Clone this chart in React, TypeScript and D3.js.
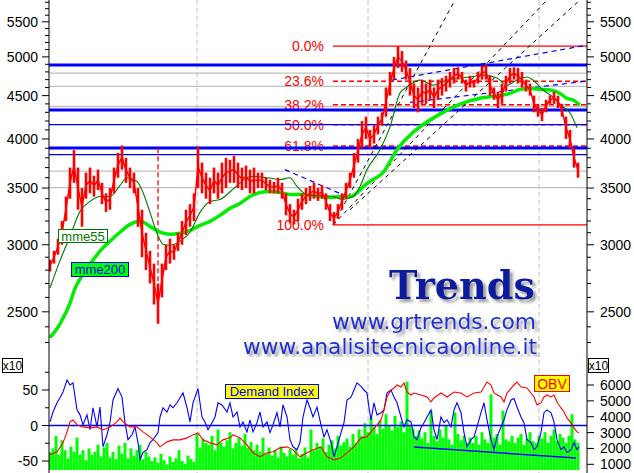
import React from 'react';
import * as d3 from 'd3';

// ---------- DATA ----------
// price bars sampled every 4 trading days: [high, low]
const priceBars: [number, number][] = [
  [2880,2790],[2950,2850],[3050,2920],[3200,3000],[3420,3200],[3700,3400],[3880,3550],[3700,3300],
  [3500,3150],[3650,3400],[3700,3450],[3620,3420],[3680,3480],[3550,3350],[3450,3280],[3500,3300],
  [3700,3450],[3850,3600],[3930,3680],[3800,3550],[3700,3500],[3650,3450],[3500,3150],[3300,2900],
  [3100,2800],[2950,2700],[2850,2550],[2700,2420],[2850,2600],[3000,2800],[3050,2850],[3000,2880],
  [3100,2950],[3200,3000],[3300,3080],[3350,3150],[3450,3200],[3920,3500],[3750,3450],[3650,3400],
  [3600,3350],[3700,3450],[3650,3400],[3750,3450],[3800,3500],[3780,3550],[3820,3550],[3750,3500],
  [3700,3480],[3720,3500],[3680,3450],[3700,3450],[3650,3500],[3650,3500],[3600,3480],[3580,3450],
  [3560,3450],[3600,3450],[3550,3400],[3450,3250],[3350,3180],[3300,3170],[3400,3200],[3450,3300],
  [3500,3350],[3520,3380],[3550,3400],[3500,3380],[3530,3400],[3450,3300],[3350,3200],[3280,3166],
  [3350,3220],[3450,3300],[3550,3400],[3650,3500],[3850,3600],[4000,3750],[4200,3900],[4250,4000],
  [4100,3900],[4150,3950],[4250,4050],[4300,4150],[4600,4250],[4800,4500],[5000,4700],[5147,4850],
  [5080,4800],[4950,4700],[4850,4500],[4650,4350],[4600,4300],[4700,4400],[4650,4400],[4700,4450],
  [4600,4350],[4700,4450],[4720,4500],[4750,4550],[4800,4600],[4850,4650],[4860,4700],[4800,4650],
  [4700,4550],[4750,4600],[4700,4600],[4800,4650],[4880,4700],[4900,4700],[4750,4500],[4600,4450],
  [4550,4350],[4650,4400],[4750,4550],[4850,4650],[4860,4700],[4850,4650],[4800,4600],[4700,4550],
  [4650,4500],[4500,4300],[4400,4250],[4350,4200],[4450,4300],[4500,4400],[4550,4400],[4500,4350],
  [4400,4250],[4250,4000],[4100,3900],[3900,3700],[3750,3600]
];
const barStep = 4;

// moving averages: [day, value]
const mme55: [number, number][] = [
  [0,2667],[10,2873],[20,3070],[30,3285],[40,3375],[50,3420],[60,3420],[70,3525],[77,3600],[87,3563],
  [93,3458],[100,3276],[107,3095],[113,3004],[120,2996],[130,3029],[140,3104],[150,3276],[160,3375],
  [170,3393],[185,3505],[200,3611],[217,3600],[230,3582],[240,3600],[247,3515],[257,3439],[270,3430],
  [283,3420],[293,3393],[303,3420],[310,3515],[317,3680],[330,3884],[340,4133],[350,4532],[357,4607],
  [370,4694],[383,4631],[397,4694],[410,4720],[420,4733],[433,4758],[447,4720],[457,4631],[467,4694],
  [477,4733],[483,4694],[493,4569],[503,4483],[513,4363],[520,4293],[527,4122]
];
const mme200: [number, number][] = [
  [0,2330],[10,2420],[20,2560],[25,2665],[30,2733],[40,2846],[50,2948],[60,3029],[70,3104],[80,3171],
  [90,3197],[100,3154],[110,3104],[120,3087],[130,3095],[140,3120],[150,3163],[160,3197],[170,3250],
  [180,3312],[190,3357],[200,3420],[210,3458],[220,3467],[230,3458],[240,3439],[250,3439],[260,3430],
  [270,3420],[280,3411],[290,3420],[300,3420],[317,3544],[323,3582],[333,3650],[347,3884],[363,4072],
  [370,4133],[390,4279],[410,4396],[430,4467],[450,4503],[460,4527],[470,4577],[480,4589],[490,4577],
  [500,4569],[510,4527],[517,4467],[523,4447],[530,4387]
];

// horizontal levels
const blueThickLevels = [4891, 4327, 3903];
const blueThinLevels = [4159, 3834];
const greyLevels = [4783, 4614, 4369, 3664, 3505];

// fibonacci retracement
const fibHigh = 5147;
const fibLow = 3166;
const fibStartDay = 283;
const fibRatios = [0, 0.236, 0.382, 0.5, 0.618, 1];
const fibLabels = ['0.0%', '23.6%', '38.2%', '50.0%', '61.8%', '100.0%'];

// trend lines [day, value, day, value]
const blueDashedLines: [number, number, number, number][] = [
  [342, 4694, 536, 5160],
  [360, 4417, 536, 4680],
  [235, 3680, 297, 3420],
];
const blackDashedLines: [number, number, number, number][] = [
  [283, 3166, 405, 5836],
  [283, 3166, 497, 5836],
  [300, 3300, 530, 5836],
];
const redVertical = { day: 108, from: 3900, to: 2420 };

// vertical grid days
const gridDays = [147, 318, 489];

// price axis ticks
const majorPriceTicks = [2500, 3000, 3500, 4000, 4500, 5000, 5500];

// lower panel
const volume: number[] = [
  20,24,38,17,33,22,13,26,20,36,17,22,11,24,17,20,28,
  15,25,30,14,20,12,27,18,30,13,24,16,22,28,12,20,15,
  10,14,8,18,11,6,15,9,13,22,10,7,16,12,9,
  40,25,35,30,28,38,22,45,30,26,33,42,24,30,36,27,40,25,31,22,28,
  20,36,18,25,16,22,14,26,19,15,23,17,24,13,
  18,25,14,45,22,30,26,35,20,28,33,24,38,27,31,35,26,40,30,
  45,38,52,42,58,48,40,55,46,62,50,44,60,48,54,42,98,50,46,38,44,
  35,42,30,66,38,32,45,36,50,34,28,64,40,33,38,30,36,
  30,38,28,42,34,30,84,36,40,28,66,34,32,38,30,36,40,28,35,42,32,30,38,
  35,42,30,38,45,32,40,36,30,38,62,34,30
];
const volStep = 3;

const demandIndex: [number, number][] = [
  [0,5],[3,19],[7,32],[10,39],[13,47],[17,64],[20,57],[23,60],[27,22],[30,15],[33,1],[37,15],[40,-6],
  [43,25],[47,-2],[50,26],[53,-30],[57,-13],[60,4],[63,36],[68,52],[72,40],[75,4],[78,-20],[82,-13],
  [85,-2],[88,-24],[90,-48],[93,-38],[97,-34],[100,-24],[103,-20],[108,-10],[110,12],[113,25],[117,19],
  [120,29],[123,25],[127,32],[130,39],[133,46],[137,25],[140,5],[143,32],[148,52],[152,12],[155,5],
  [158,-6],[162,4],[165,12],[168,32],[172,29],[177,19],[180,32],[183,12],[187,19],[190,-2],[193,5],
  [197,-9],[200,8],[203,-9],[207,4],[210,19],[213,-2],[217,5],[220,-10],[223,1],[227,18],[230,-2],
  [233,29],[237,12],[240,-20],[243,-30],[247,-34],[250,-24],[253,12],[257,36],[260,25],[263,12],
  [267,26],[271,1],[274,-16],[277,-6],[281,-24],[284,-44],[287,-30],[291,-10],[294,4],[297,36],
  [301,40],[304,50],[307,60],[311,55],[314,50],[317,46],[319,25],[321,8],[324,32],[327,15],[331,18],
  [334,22],[337,46],[341,50],[344,40],[347,32],[351,12],[354,-2],[357,8],[361,5],[364,-16],[367,-20],
  [371,-3],[374,4],[377,12],[381,22],[384,-6],[387,-20],[391,12],[394,4],[397,8],[401,-2],[404,22],
  [407,32],[411,18],[414,-10],[417,-30],[421,-20],[424,-16],[427,-2],[431,18],[434,32],[437,8],
  [441,-20],[444,-34],[447,-16],[451,-2],[454,8],[457,22],[461,36],[464,38],[467,26],[471,12],
  [474,4],[477,-20],[481,-24],[484,-34],[487,-30],[491,-10],[494,18],[497,22],[501,18],[504,5],
  [507,-20],[511,-34],[514,-30],[517,-38],[521,-34],[524,-24],[527,-34],[529,-30]
];

const obv: [number, number][] = [
  [0,1597],[7,1786],[13,2352],[17,3044],[20,3673],[23,3799],[27,3484],[33,3358],[40,3295],[47,3358],
  [53,3170],[60,3358],[67,3673],[70,3925],[73,3673],[80,3358],[87,3358],[93,3044],[100,2729],[107,2352],
  [110,2100],[117,2415],[123,2541],[130,2541],[137,2667],[143,2855],[148,2981],[153,2541],[160,2352],
  [167,2226],[173,2541],[180,2667],[183,2855],[190,2667],[197,2226],[203,1723],[210,1471],[217,1723],
  [223,1786],[230,2037],[237,2100],[243,1911],[250,1471],[257,1723],[263,1911],[271,2100],[277,1471],
  [284,1282],[291,1408],[297,1723],[304,2100],[311,2667],[317,2729],[321,3044],[327,3484],[331,3799],
  [334,4428],[337,5245],[341,5686],[344,5811],[347,6000],[351,5874],[354,6126],[357,5560],[361,5371],
  [364,5497],[371,5371],[377,5245],[381,4931],[384,5182],[391,5497],[397,5245],[404,5560],[411,5497],
  [417,5245],[424,5497],[431,5560],[434,5874],[437,6189],[441,6000],[444,5497],[451,5245],[454,4931],
  [457,5497],[464,6000],[467,6189],[471,5874],[477,5811],[484,5245],[487,4742],[491,4868],[494,5245],
  [497,5371],[501,5245],[504,5371],[507,4931],[511,4553],[514,4302],[517,3925],[521,3610],[524,3295],
  [527,3044],[529,2981]
];
const volTrend: [number, number, number, number] = [364, 25.6, 526, 13.3];

const diTicks = [50, 0, -50];
const obvTicks = [6000, 5000, 4000, 3000, 2000, 1000];

// ---------- CHART ----------
const W = 634, H = 473;
const L = 49, R = 587;
const MAIN_BOTTOM = 357;
const FONT = '"Liberation Sans", Arial, sans-serif';

export default function App() {
  const x = d3.scaleLinear().domain([0, 530]).range([50, 580]);
  const y = d3.scaleLog().domain([2211, 5836]).range([MAIN_BOTTOM, 0]);
  const yDI = d3.scaleLinear().domain([-50, 50]).range([461, 390]);
  const yOBV = d3.scaleLinear().domain([1000, 6000]).range([464.3, 385]);
  const yVol = d3.scaleLinear().domain([0, 100]).range([470, 380]);

  const pLine = d3.line<[number, number]>().x(d => x(d[0])).y(d => y(d[1])).curve(d3.curveMonotoneX);
  const diLine = d3.line<[number, number]>().x(d => x(d[0])).y(d => yDI(d[1]));
  const obvLine = d3.line<[number, number]>().x(d => x(d[0])).y(d => yOBV(d[1]));

  const minorTicks = d3.range(2300, 5900, 100).filter(v => v % 500 !== 0);
  const diMinor = [75, 25, -25];

  return (
    <svg width={W} height={H} style={{ position: 'absolute', left: 0, top: 0, background: '#fff' }}
      fontFamily={FONT}>
      <defs>
        <clipPath id="mainClip"><rect x={L} y={0} width={R - L} height={MAIN_BOTTOM} /></clipPath>
        <clipPath id="lowClip"><rect x={L} y={358} width={R - L} height={H - 358} /></clipPath>
        <filter id="shadow" x="-10%" y="-40%" width="125%" height="190%">
          <feGaussianBlur in="SourceAlpha" stdDeviation="1.6" result="b" />
          <feOffset in="b" dx="3" dy="3" result="o" />
          <feFlood floodColor="#888" floodOpacity="0.85" />
          <feComposite in2="o" operator="in" result="s" />
          <feMerge>
            <feMergeNode in="s" />
            <feMergeNode in="SourceGraphic" />
          </feMerge>
        </filter>
      </defs>
      <rect x={0} y={0} width={W} height={H} fill="#fff" />

      {/* vertical grid */}
      {gridDays.map((d, i) => (
        <line key={'g' + i} x1={x(d)} x2={x(d)} y1={0} y2={H} stroke="#c0c0c0" strokeDasharray="5,3" />
      ))}

      <g clipPath="url(#mainClip)">
        {greyLevels.map((v, i) => (
          <line key={'gl' + i} x1={L} x2={R} y1={y(v)} y2={y(v)} stroke="#c0c0c0" strokeWidth={1.3} />
        ))}

        {/* logo */}
        <g filter="url(#shadow)">
          <text x={389} y={299} fontFamily='"DejaVu Serif", "Liberation Serif", serif' fontWeight="bold"
            fontSize={40} fill="#0a1f9e" textLength={146} lengthAdjust="spacingAndGlyphs">Trends</text>
          <text x={332} y={329} fontFamily='"DejaVu Sans", sans-serif' fontSize={21} fill="#1c2fd0"
            textLength={204} lengthAdjust="spacingAndGlyphs">www.grtrends.com</text>
          <text x={243} y={354} fontFamily='"DejaVu Sans", sans-serif' fontSize={21} fill="#1c2fd0"
            textLength={294} lengthAdjust="spacingAndGlyphs">www.analisitecnicaonline.it</text>
        </g>

        {/* fibonacci */}
        {fibRatios.map((r, i) => {
          const v = fibHigh - r * (fibHigh - fibLow);
          const solid = r === 0 || r === 1;
          return (
            <g key={'f' + i}>
              <line x1={x(fibStartDay)} x2={R} y1={y(v)} y2={y(v)} stroke="#ff0000" strokeWidth={solid ? 1.2 : 1.5}
                strokeDasharray={solid ? undefined : '5,3'} />
              <text x={324} y={y(v) + 5} textAnchor="end" fontSize={14} fill="#ff0000">{fibLabels[i]}</text>
            </g>
          );
        })}

        {/* blue horizontal levels */}
        {blueThickLevels.map((v, i) => (
          <line key={'bt' + i} x1={L} x2={R} y1={y(v)} y2={y(v)} stroke="#0000ff" strokeWidth={3} />
        ))}
        {blueThinLevels.map((v, i) => (
          <line key={'bn' + i} x1={L} x2={R} y1={y(v)} y2={y(v)} stroke="#0000ff" strokeWidth={1.3} />
        ))}

        {/* trend lines */}
        {blackDashedLines.map((l, i) => (
          <line key={'bd' + i} x1={x(l[0])} y1={y(l[1])} x2={x(l[2])} y2={y(l[3])} stroke="#000" strokeDasharray="4,4" />
        ))}
        {blueDashedLines.map((l, i) => (
          <line key={'bl' + i} x1={x(l[0])} y1={y(l[1])} x2={x(l[2])} y2={y(l[3])} stroke="#0000ff" strokeDasharray="5,4" strokeWidth={1.2} />
        ))}
        <line x1={x(redVertical.day)} x2={x(redVertical.day)} y1={y(redVertical.from)} y2={y(redVertical.to)}
          stroke="#ff0000" strokeDasharray="5,3" strokeWidth={1.3} />

        {/* moving averages */}
        <path d={pLine(mme200) || ''} fill="none" stroke="#00ee00" strokeWidth={3.5} />
        <path d={pLine(mme55) || ''} fill="none" stroke="#007800" strokeWidth={1.1} />

        {/* price bars */}
        <path d={d3.line<[number, number]>().x((_, i) => x(i * barStep)).y(d => y((d[0] + d[1]) / 2))(priceBars) || ''}
          fill="none" stroke="#ff0000" strokeWidth={1.5} />
        {priceBars.map((b, i) => (
          <line key={'p' + i} x1={x(i * barStep)} x2={x(i * barStep)} y1={y(b[0])} y2={y(b[1])} stroke="#ff0000" strokeWidth={2.6} />
        ))}

        {/* ma labels */}
        <rect x={58.5} y={229.5} width={49} height={13} fill="#fff" stroke="#007800" />
        <text x={83} y={240.5} textAnchor="middle" fontSize={13} fill="#007800">mme55</text>
        <rect x={71.5} y={262.5} width={57} height={14} fill="#00ff00" stroke="#0000ff" />
        <text x={100} y={274} textAnchor="middle" fontSize={13} fill="#0000ff">mme200</text>
      </g>

      {/* lower panel */}
      <g clipPath="url(#lowClip)">
        {volume.map((v, i) => (
          <rect key={'v' + i} x={x(i * volStep) - 1.5} width={3} y={yVol(v)} height={yVol(0) - yVol(v)} fill="#00ff00" />
        ))}
        <line x1={L} x2={R} y1={yDI(0)} y2={yDI(0)} stroke="#0000ff" strokeWidth={1.3} />
        <line x1={x(volTrend[0])} y1={yVol(volTrend[1])} x2={x(volTrend[2])} y2={yVol(volTrend[3])} stroke="#0000ff" strokeWidth={1.5} />
        <path d={diLine(demandIndex) || ''} fill="none" stroke="#0000ff" strokeWidth={1.1} />
        <path d={obvLine(obv) || ''} fill="none" stroke="#ff0000" strokeWidth={1.1} />
        <rect x={225.5} y={384.5} width={93} height={14} fill="#ffff00" stroke="#0000ff" />
        <text x={272} y={396} textAnchor="middle" fontSize={13} fill="#0000ff">Demand Index</text>
        <rect x={534.5} y={375.5} width={35} height={16} fill="#ffff00" stroke="#ff0000" />
        <text x={552} y={388.5} textAnchor="middle" fontSize={14} fill="#ff0000">OBV</text>
      </g>

      {/* axes */}
      <line x1={L} x2={L} y1={0} y2={H} stroke="#000" />
      <line x1={R} x2={R} y1={0} y2={H} stroke="#000" />
      {majorPriceTicks.map(v => (
        <g key={'mt' + v}>
          <line x1={L - 7} x2={L} y1={y(v)} y2={y(v)} stroke="#000" />
          <line x1={R} x2={R + 7} y1={y(v)} y2={y(v)} stroke="#000" />
          <text x={38} y={y(v) + 5} textAnchor="end" fontSize={14}>{v}</text>
          <text x={600} y={y(v) + 5} fontSize={14}>{v}</text>
        </g>
      ))}
      {minorTicks.map(v => (
        <g key={'mn' + v}>
          <line x1={L - 4} x2={L} y1={y(v)} y2={y(v)} stroke="#000" />
          <line x1={R} x2={R + 4} y1={y(v)} y2={y(v)} stroke="#000" />
        </g>
      ))}
      {diTicks.map(v => (
        <g key={'dt' + v}>
          <line x1={L - 7} x2={L} y1={yDI(v)} y2={yDI(v)} stroke="#000" />
          <text x={38} y={yDI(v) + 5} textAnchor="end" fontSize={14}>{v}</text>
        </g>
      ))}
      {diMinor.map(v => (
        <line key={'dm' + v} x1={L - 4} x2={L} y1={yDI(v)} y2={yDI(v)} stroke="#000" />
      ))}
      {obvTicks.map(v => (
        <g key={'ot' + v}>
          <line x1={R} x2={R + 7} y1={yOBV(v)} y2={yOBV(v)} stroke="#000" />
          <text x={600} y={yOBV(v) + 5} fontSize={14}>{v}</text>
        </g>
      ))}
      <rect x={2.5} y={358.5} width={20} height={14} fill="#fff" stroke="#000" />
      <text x={12.5} y={369.5} textAnchor="middle" fontSize={12}>x10</text>
      <rect x={588.5} y={358.5} width={20} height={14} fill="#fff" stroke="#000" />
      <text x={598.5} y={369.5} textAnchor="middle" fontSize={12}>x10</text>
    </svg>
  );
}
